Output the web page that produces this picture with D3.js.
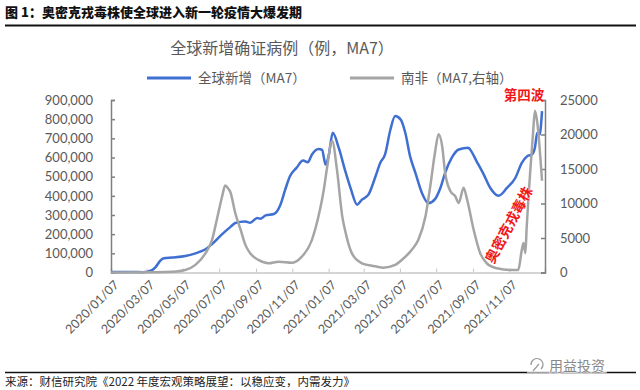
<!DOCTYPE html>
<html>
<head>
<meta charset="utf-8">
<script src="https://cdn.jsdelivr.net/npm/d3@7"></script>
<style>
  body { margin: 0; background: #fff; }
  svg { display: block; }
</style>
</head>
<body>
<svg width="640" height="390"></svg>
<script>
// global new cases, 7-day average (left axis)
const globalDates = ['2020-01-07', '2020-02-12', '2020-03-01', '2020-03-16', '2020-03-22', '2020-03-30',
  '2020-04-05', '2020-04-19', '2020-05-11', '2020-05-28', '2020-06-14', '2020-06-25', '2020-07-12',
  '2020-07-26', '2020-08-03', '2020-08-20', '2020-08-28', '2020-09-09', '2020-09-14', '2020-09-23',
  '2020-10-07', '2020-10-18', '2020-10-26', '2020-11-03', '2020-11-14', '2020-11-25', '2020-12-03',
  '2020-12-10', '2020-12-21', '2020-12-27', '2021-01-02', '2021-01-07', '2021-01-14', '2021-01-24',
  '2021-02-04', '2021-02-13', '2021-02-24', '2021-03-04', '2021-03-15', '2021-03-27', '2021-04-04',
  '2021-04-12', '2021-04-21', '2021-04-29', '2021-05-08', '2021-05-16', '2021-05-24', '2021-06-02',
  '2021-06-13', '2021-06-24', '2021-07-05', '2021-07-14', '2021-07-22', '2021-08-02', '2021-08-14',
  '2021-08-30', '2021-09-02', '2021-09-13', '2021-09-25', '2021-10-06', '2021-10-20', '2021-11-03',
  '2021-11-17', '2021-11-28', '2021-12-07', '2021-12-15', '2021-12-20', '2021-12-24', '2021-12-28',
  '2022-01-01'];
const globalValues = [2000, 2500, 1500, 12000, 28000, 62000,
  74000, 78000, 86000, 100000, 121000, 148000, 200000,
  238000, 258000, 266000, 260000, 284000, 280000, 298000,
  305000, 354000, 432000, 502000, 546000, 584000, 575000,
  616000, 645000, 640000, 563000, 607000, 729000, 651000,
  530000, 440000, 354000, 380000, 406000, 502000, 572000,
  616000, 746000, 816000, 799000, 729000, 607000, 520000,
  415000, 362000, 383000, 441000, 520000, 598000, 642000,
  651000, 642000, 580000, 511000, 441000, 401000, 441000,
  493000, 572000, 607000, 616000, 651000, 729000, 720000,
  842000];

// South Africa new cases, 7-day average (right axis)
const saDates = ['2020-01-07', '2020-03-22', '2020-04-19', '2020-05-11', '2020-05-28', '2020-06-14',
  '2020-06-25', '2020-07-03', '2020-07-12', '2020-07-17', '2020-07-21', '2020-07-26', '2020-08-03',
  '2020-08-12', '2020-08-20', '2020-08-28', '2020-09-11', '2020-09-28', '2020-10-15', '2020-11-07',
  '2020-11-23', '2020-12-10', '2020-12-21', '2020-12-30', '2021-01-04', '2021-01-13', '2021-01-21',
  '2021-01-30', '2021-02-04', '2021-02-15', '2021-03-04', '2021-03-21', '2021-04-09', '2021-04-29',
  '2021-05-10', '2021-05-27', '2021-06-07', '2021-06-19', '2021-06-27', '2021-07-05', '2021-07-11',
  '2021-07-17', '2021-07-22', '2021-07-31', '2021-08-08', '2021-08-14', '2021-08-22', '2021-08-28',
  '2021-09-08', '2021-09-19', '2021-09-30', '2021-10-17', '2021-11-08', '2021-11-22', '2021-11-28',
  '2021-12-01', '2021-12-04', '2021-12-06', '2021-12-12', '2021-12-17', '2021-12-20', '2021-12-24',
  '2021-12-29', '2022-01-01'];
const saValues = [0, 30, 100, 360, 1100, 2800,
  4740, 7650, 11050, 12600, 12300, 11600, 8630,
  6200, 4000, 2800, 1820, 1340, 1575, 1430,
  2300, 4740, 8140, 12030, 14950, 19070, 14950,
  8140, 6000, 2800, 1340, 990, 700, 1100,
  1820, 3280, 4740, 8140, 12500, 17380, 20050,
  18340, 14460, 11780, 11050, 10090, 12280, 10570,
  6200, 2800, 1340, 610, 360, 360, 3280,
  4260, 2800, 6200, 14460, 20300, 23440, 21750,
  16880, 13300];

const tickLabels = ['2020/01/07', '2020/03/07', '2020/05/07', '2020/07/07', '2020/09/07', '2020/11/07',
  '2021/01/07', '2021/03/07', '2021/05/07', '2021/07/07', '2021/09/07', '2021/11/07'];
const leftTicks = [0, 100000, 200000, 300000, 400000, 500000, 600000, 700000, 800000, 900000];
const rightTicks = [0, 5000, 10000, 15000, 20000, 25000];

const cjk = '"Noto Sans CJK SC", "Noto Sans", sans-serif';
const num = 'Lato, "Liberation Sans", sans-serif';
const axisGrey = '#595959';
const blue = '#3f6fd1';
const grey = '#a5a5a5';

const svg = d3.select('svg');
const parseDay = d3.timeParse('%Y-%m-%d');
const parseTick = d3.timeParse('%Y/%m/%d');

const plot = { left: 111, right: 545, top: 100, bottom: 272.5 };

const x = d3.scaleTime()
  .domain([parseDay('2020-01-07'), parseDay('2022-01-06')])
  .range([plot.left, plot.right]);
const yLeft = d3.scaleLinear().domain([0, 900000]).range([plot.bottom, plot.top]);
const yRight = d3.scaleLinear().domain([0, 25000]).range([plot.bottom, plot.top]);

// header
svg.append('text')
  .attr('x', 5).attr('y', 17)
  .attr('font-family', cjk).attr('font-weight', 900).attr('font-size', 13)
  .attr('fill', '#111')
  .text('图 1：奥密克戎毒株使全球进入新一轮疫情大爆发期');
svg.append('line')
  .attr('x1', 5).attr('x2', 636).attr('y1', 25.5).attr('y2', 25.5)
  .attr('stroke', '#111').attr('stroke-width', 2);

// chart title
svg.append('text')
  .attr('x', 282).attr('y', 54)
  .attr('text-anchor', 'middle')
  .attr('font-family', cjk).attr('font-size', 16)
  .attr('fill', axisGrey)
  .text('全球新增确证病例（例，MA7）');

// legend
const legend = [
  { label: '全球新增（MA7）', color: blue, x: 147 },
  { label: '南非（MA7,右轴）', color: grey, x: 350 }
];
legend.forEach(function (d) {
  svg.append('line')
    .attr('x1', d.x).attr('x2', d.x + 44).attr('y1', 78).attr('y2', 78)
    .attr('stroke', d.color).attr('stroke-width', 3);
  svg.append('text')
    .attr('x', d.x + 51).attr('y', 83)
    .attr('font-family', cjk).attr('font-size', 13.5)
    .attr('fill', axisGrey)
    .text(d.label);
});

// axes
const gx = svg.append('g')
  .attr('transform', 'translate(0,' + plot.bottom + ')')
  .call(d3.axisBottom(x).tickValues(tickLabels.map(parseTick)).tickSize(-4).tickFormat(''));
gx.select('.domain').attr('stroke', '#c8c8c8').attr('stroke-width', 1.5);
gx.selectAll('.tick line').attr('stroke', '#c8c8c8');

gx.selectAll('.tick').append('text')
  .attr('transform', 'translate(5,10) rotate(-45)')
  .attr('text-anchor', 'end')
  .attr('dy', '0.35em')
  .attr('font-family', num).attr('font-size', 12.5)
  .attr('fill', axisGrey)
  .text(function (d, i) { return tickLabels[i]; });

const gl = svg.append('g')
  .attr('transform', 'translate(' + plot.left + ',0)')
  .call(d3.axisLeft(yLeft).tickValues(leftTicks).tickSize(-4).tickPadding(18).tickFormat(d3.format(',')));
gl.select('.domain').attr('stroke', '#7f7f7f').attr('stroke-width', 1.5);
gl.selectAll('.tick line').attr('stroke', '#7f7f7f').attr('stroke-width', 1.5);
gl.selectAll('.tick text').attr('font-family', num).attr('font-size', 13).attr('fill', axisGrey);

const gr = svg.append('g')
  .attr('transform', 'translate(' + plot.right + ',0)')
  .call(d3.axisRight(yRight).tickValues(rightTicks).tickSize(-4).tickPadding(15).tickFormat(d3.format('d')));
gr.select('.domain').attr('stroke', '#7f7f7f').attr('stroke-width', 1.5);
gr.selectAll('.tick line').attr('stroke', '#7f7f7f').attr('stroke-width', 1.5);
gr.selectAll('.tick text').attr('font-family', num).attr('font-size', 13).attr('fill', axisGrey);

// series
const globalLine = d3.line()
  .x(function (d, i) { return x(parseDay(globalDates[i])); })
  .y(function (d) { return yLeft(d); })
  .curve(d3.curveMonotoneX);
const saLine = d3.line()
  .x(function (d, i) { return x(parseDay(saDates[i])); })
  .y(function (d) { return yRight(d); })
  .curve(d3.curveMonotoneX);

svg.append('path')
  .attr('d', globalLine(globalValues))
  .attr('fill', 'none').attr('stroke', blue).attr('stroke-width', 2.5)
  .attr('stroke-linejoin', 'round');
svg.append('path')
  .attr('d', saLine(saValues))
  .attr('fill', 'none').attr('stroke', grey).attr('stroke-width', 2.5)
  .attr('stroke-linejoin', 'round');

// annotations
svg.append('text')
  .attr('x', 524).attr('y', 100)
  .attr('text-anchor', 'middle')
  .attr('font-family', cjk).attr('font-weight', 700).attr('font-size', 13.5)
  .attr('fill', '#f01818')
  .text('第四波');
svg.append('text')
  .attr('transform', 'translate(509,225) rotate(-62)')
  .attr('text-anchor', 'middle').attr('dy', '0.35em')
  .attr('font-family', cjk).attr('font-weight', 700).attr('font-size', 14)
  .attr('fill', '#f01818')
  .attr('stroke', '#fff').attr('stroke-width', 0.6).attr('paint-order', 'stroke')
  .text('奥密克戎毒株');

// footer
svg.append('line')
  .attr('x1', 5).attr('x2', 636).attr('y1', 372.5).attr('y2', 372.5)
  .attr('stroke', '#111').attr('stroke-width', 1.5);
svg.append('text')
  .attr('x', 5).attr('y', 386)
  .attr('font-family', cjk).attr('font-size', 11.5)
  .attr('fill', '#222')
  .text('来源：财信研究院《2022 年度宏观策略展望：以稳应变，内需发力》');

// watermark
const wm = svg.append('g').attr('transform', 'translate(545,371)');
wm.append('rect').attr('x', -18).attr('y', -12).attr('width', 80).attr('height', 14).attr('fill', '#fff').attr('opacity', 0.6);
wm.append('path')
  .attr('d', 'M-14,-6 a6,6 0 1,1 10,4 M-12,0 l6,-7')
  .attr('fill', 'none').attr('stroke', '#9a9a9a').attr('stroke-width', 1.2);
wm.append('text')
  .attr('x', 4).attr('y', 0)
  .attr('font-family', cjk).attr('font-size', 14)
  .attr('fill', '#888').attr('stroke', '#fff').attr('stroke-width', 0.8).attr('paint-order', 'stroke')
  .text('用益投资');
</script>
</body>
</html>
